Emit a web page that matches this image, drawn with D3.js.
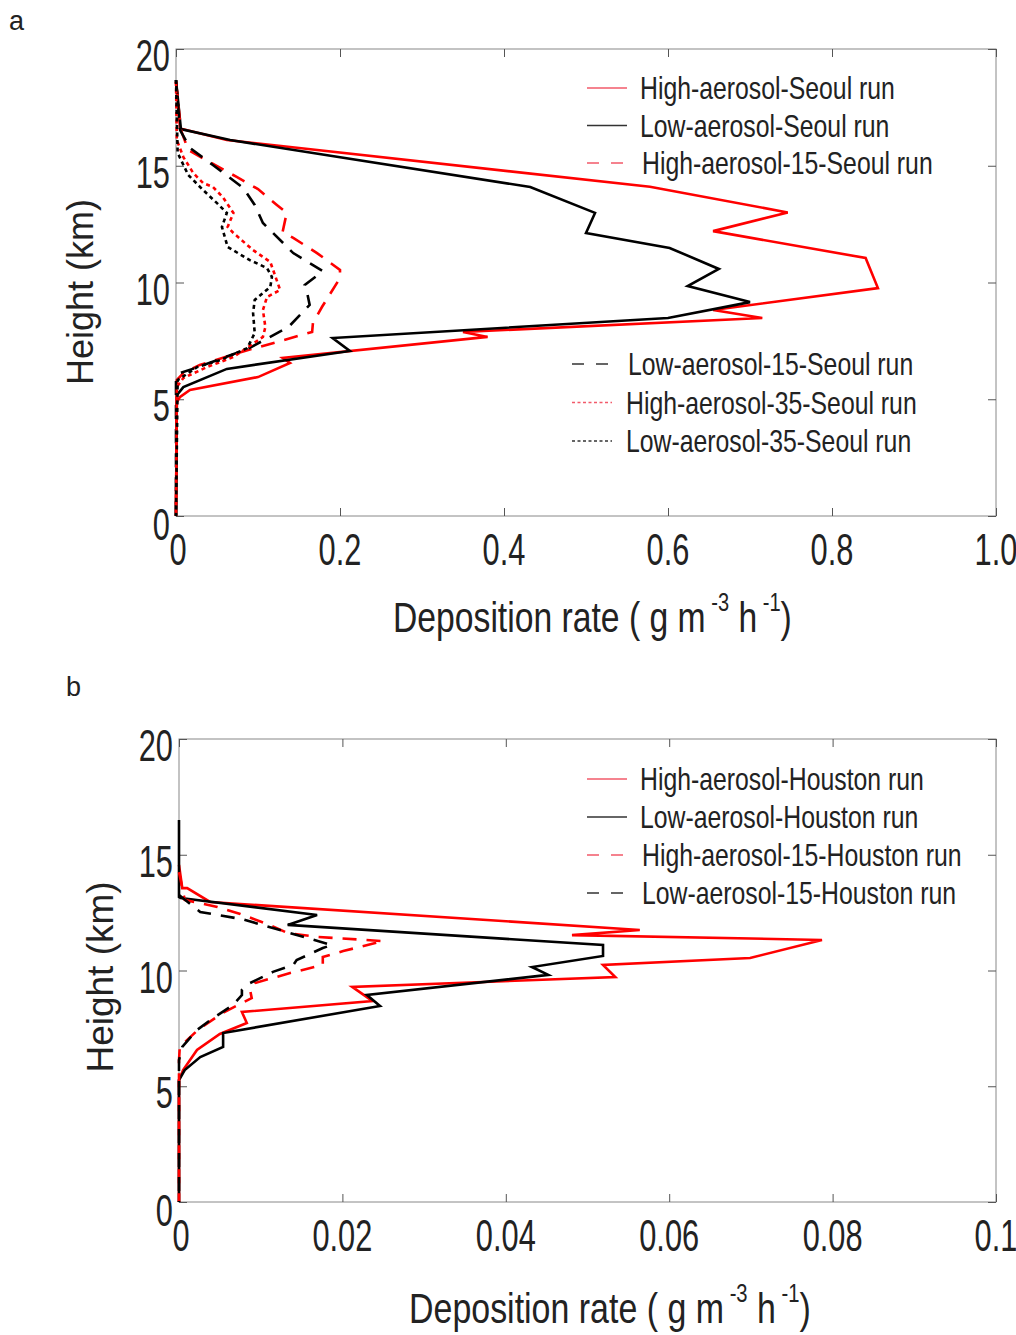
<!DOCTYPE html>
<html>
<head>
<meta charset="utf-8">
<script src="https://cdn.jsdelivr.net/npm/d3@7"></script>
<style>
  body { margin: 0; background: #fff; }
  svg text { font-family: "Liberation Sans", Arial, sans-serif; fill: #222; }
</style>
</head>
<body>
<svg id="chart" width="1016" height="1335"></svg>
<script>
// ---- data: [deposition rate, height km] ----
const highSeoul = [[0,18.6],[0.005,16.6],[0.062,16.1],[0.578,14.1],[0.746,13.0],[0.655,12.2],[0.841,11.05],[0.856,9.76],[0.655,8.82],[0.715,8.48],[0.350,7.88],[0.380,7.67],[0.130,6.77],[0.139,6.55],[0.100,5.95],[0.017,5.40],[0.005,5.10],[0.001,4.88],[0,0]];
const lowSeoul = [[0,18.67],[0.006,16.57],[0.066,16.1],[0.432,14.09],[0.511,12.98],[0.500,12.12],[0.602,11.48],[0.662,10.58],[0.624,9.85],[0.700,9.16],[0.600,8.48],[0.191,7.62],[0.212,7.07],[0.062,6.30],[0.009,5.52],[0.001,5.18],[0,0]];
const high15Seoul = [[0,18.59],[0.006,16.53],[0.015,15.67],[0.074,14.52],[0.100,14.0],[0.123,13.32],[0.135,12.98],[0.130,12.16],[0.143,11.91],[0.172,11.26],[0.200,10.54],[0.200,10.19],[0.178,8.95],[0.167,8.27],[0.166,7.88],[0.123,7.45],[0.088,7.11],[0.029,6.47],[0.009,6.12],[0.001,5.82],[0,0]];
const low15Seoul = [[0,18.67],[0.005,16.53],[0.017,15.76],[0.045,15.03],[0.082,14.05],[0.096,13.32],[0.106,12.55],[0.143,11.26],[0.179,10.49],[0.157,9.89],[0.160,9.55],[0.163,9.04],[0.137,8.09],[0.087,7.15],[0.027,6.38],[0.005,6.12],[0,5.82],[0,0]];
const high35Seoul = [[0,18.59],[0.001,16.1],[0.009,15.37],[0.021,14.69],[0.033,14.26],[0.045,14.09],[0.057,13.66],[0.070,12.98],[0.063,12.38],[0.070,12.12],[0.094,11.39],[0.115,10.88],[0.127,9.68],[0.111,9.38],[0.106,8.82],[0.109,8.09],[0.106,7.67],[0.070,6.81],[0.038,6.38],[0.009,5.91],[0.001,5.52],[0,0]];
const low35Seoul = [[0,18.67],[0.002,15.55],[0.015,14.60],[0.033,13.96],[0.050,13.40],[0.062,12.98],[0.056,12.38],[0.063,11.52],[0.090,10.96],[0.111,10.62],[0.117,10.24],[0.115,9.81],[0.096,9.25],[0.094,8.69],[0.096,7.84],[0.087,7.19],[0.054,6.68],[0.026,6.38],[0.002,5.82],[0,0]];

const highHouston = [[0,14.56],[0.0004,13.56],[0.001,13.56],[0.0038,12.96],[0.0564,11.75],[0.0481,11.53],[0.0787,11.32],[0.0699,10.54],[0.0519,10.24],[0.0534,9.72],[0.0212,9.29],[0.0237,8.68],[0.0077,8.21],[0.0083,7.73],[0.0050,7.26],[0.0022,6.57],[0.0005,5.70],[0,5.27],[0,0]];
const lowHouston = [[0,16.5],[0,13.17],[0.0002,13.13],[0.0169,12.40],[0.0133,11.97],[0.0519,11.10],[0.0519,10.63],[0.0432,10.15],[0.0452,9.81],[0.0230,8.94],[0.0246,8.47],[0.0054,7.30],[0.0054,6.70],[0.0026,6.26],[0.0007,5.70],[0,5.27],[0,0]];
const high15Houston = [[0,14.25],[0.0007,13.05],[0.0047,12.74],[0.0075,12.44],[0.0108,12.01],[0.0133,11.62],[0.0169,11.45],[0.0250,11.27],[0.0201,10.84],[0.0176,10.58],[0.0176,10.24],[0.0136,9.89],[0.0093,9.46],[0.0087,9.16],[0.0089,8.81],[0.0053,8.16],[0.0023,7.43],[0.0001,6.70],[0,6.13],[0,0]];
const low15Houston = [[0,13.26],[0.0026,12.53],[0.0077,12.22],[0.0132,11.66],[0.0187,11.10],[0.0176,10.97],[0.0144,10.45],[0.0140,10.24],[0.0115,9.94],[0.0087,9.46],[0.0077,9.16],[0.0077,8.94],[0.0066,8.51],[0.0042,7.95],[0.0022,7.43],[0.0004,6.70],[0,6.13],[0,0]];

const heightTicks = [0, 5, 10, 15, 20];
const rateTicksA = [0, 0.2, 0.4, 0.6, 0.8, 1.0];
const rateLabelsA = ["0", "0.2", "0.4", "0.6", "0.8", "1.0"];
const rateTicksB = [0, 0.02, 0.04, 0.06, 0.08, 0.1];
const rateLabelsB = ["0", "0.02", "0.04", "0.06", "0.08", "0.1"];

const DASH = "14,10", DOT = "4,3.5";

const seriesA = [
  { name: "High-aerosol-Seoul run", data: highSeoul, color: "#ff0000", dash: null },
  { name: "Low-aerosol-Seoul run", data: lowSeoul, color: "#000", dash: null },
  { name: "High-aerosol-15-Seoul run", data: high15Seoul, color: "#ff0000", dash: DASH },
  { name: "Low-aerosol-15-Seoul run", data: low15Seoul, color: "#000", dash: DASH },
  { name: "High-aerosol-35-Seoul run", data: high35Seoul, color: "#ff0000", dash: DOT },
  { name: "Low-aerosol-35-Seoul run", data: low35Seoul, color: "#000", dash: DOT }
];
const seriesB = [
  { name: "High-aerosol-Houston run", data: highHouston, color: "#ff0000", dash: null },
  { name: "Low-aerosol-Houston run", data: lowHouston, color: "#000", dash: null },
  { name: "High-aerosol-15-Houston run", data: high15Houston, color: "#ff0000", dash: DASH },
  { name: "Low-aerosol-15-Houston run", data: low15Houston, color: "#000", dash: DASH }
];

const svg = d3.select("#chart");

// text squeezed horizontally (the original uses a condensed face)
function label(g, x, y, s, size, anchor, f, rot) {
  return g.append("text")
    .attr("transform", `translate(${x},${y})` + (rot ? ` rotate(${rot})` : "") + ` scale(${f},1)`)
    .attr("text-anchor", anchor).attr("font-size", size).text(s);
}
function fitWidth(t, x, y, w) {
  const bw = t.node().getBBox().width;
  t.attr("transform", `translate(${x},${y}) scale(${w / bw},1)`);
}

function drawPanel(opt) {
  const x = d3.scaleLinear().domain([0, opt.xmax]).range([opt.left, opt.right]);
  const y = d3.scaleLinear().domain([0, 20]).range([opt.bottom, opt.top]);
  const g = svg.append("g");

  g.append("rect")
    .attr("x", opt.left).attr("y", opt.top)
    .attr("width", opt.right - opt.left).attr("height", opt.bottom - opt.top)
    .attr("fill", "none").attr("stroke", "#888").attr("stroke-width", 1);

  const tickStyle = sel => {
    sel.select(".domain").remove();
    sel.selectAll(".tick line").attr("stroke", "#555");
    sel.selectAll(".tick text").remove();
  };
  g.append("g").attr("transform", `translate(0,${opt.bottom})`)
    .call(d3.axisBottom(x).tickValues(opt.xticks).tickSize(-8)).call(tickStyle);
  g.append("g").attr("transform", `translate(0,${opt.top})`)
    .call(d3.axisTop(x).tickValues(opt.xticks).tickSize(-8)).call(tickStyle);
  g.append("g").attr("transform", `translate(${opt.left},0)`)
    .call(d3.axisLeft(y).tickValues(heightTicks).tickSize(-8)).call(tickStyle);
  g.append("g").attr("transform", `translate(${opt.right},0)`)
    .call(d3.axisRight(y).tickValues(heightTicks).tickSize(-8)).call(tickStyle);

  // tick labels
  opt.xticks.forEach((d, i) => label(g, x(d) + (i === 0 ? 2 : 0), opt.bottom + 49, opt.xlabels[i], 44, "middle", 0.7));
  heightTicks.forEach(d => label(g, opt.left - 6, y(d) + 22 + (d === 0 ? 2 : 0), d, 44, "end", 0.7));

  // lines
  const line = d3.line().x(d => x(d[0])).y(d => y(d[1]));
  g.selectAll(".series").data(opt.series).join("path")
    .attr("d", s => line(s.data))
    .attr("fill", "none")
    .attr("stroke", s => s.color)
    .attr("stroke-width", 2.6)
    .attr("stroke-dasharray", s => s.dash);

  // legends
  opt.legends.forEach(lg => {
    lg.items.forEach((s, i) => {
      const yy = lg.y + i * lg.step;
      g.append("line")
        .attr("x1", lg.x).attr("x2", lg.x + 40)
        .attr("y1", yy).attr("y2", yy)
        .attr("stroke", s.color === "#000" ? "#333" : "#f25a6a")
        .attr("stroke-width", 1.6)
        .attr("stroke-dasharray", s.dash === DASH ? "12,12" : (s.dash === DOT ? "3,2.5" : null));
      label(g, lg.x + lg.gap + (s.dash === DASH && lg.gap > 50 ? 2 : 0), yy + 11, s.name, 32, "start", 0.775);
    });
  });

  // x title
  const xt = g.append("text").attr("text-anchor", "start").attr("font-size", 42);
  xt.append("tspan").text("Deposition rate ( g m");
  xt.append("tspan").attr("dy", -21).attr("font-size", 25).text(" -3");
  xt.append("tspan").attr("dy", 21).text(" h");
  xt.append("tspan").attr("dy", -21).attr("font-size", 25).text(" -1");
  xt.append("tspan").attr("dy", 21).text(")");
  fitWidth(xt, opt.xtitleX, opt.xtitleY, opt.xtitleW);

  label(g, opt.ytitleX, opt.ytitleY, "Height (km)", opt.ytitleSize, "middle", 1, -90);

  g.append("text").attr("x", opt.tagX).attr("y", opt.tagY).attr("font-size", 27).text(opt.tag);
}

drawPanel({
  left: 176, right: 996, top: 49, bottom: 516, xmax: 1.0,
  xticks: rateTicksA, xlabels: rateLabelsA, series: seriesA,
  legends: [
    { x: 587, y: 88, step: 37.5, gap: 53, items: seriesA.slice(0, 3) },
    { x: 572, y: 364, step: 38.5, gap: 54, items: seriesA.slice(3) }
  ],
  xtitleX: 393, xtitleY: 632, xtitleW: 399,
  ytitleX: 93, ytitleY: 292, ytitleSize: 36,
  tag: "a", tagX: 9, tagY: 30
});

drawPanel({
  left: 179, right: 996, top: 739, bottom: 1202, xmax: 0.1,
  xticks: rateTicksB, xlabels: rateLabelsB, series: seriesB,
  legends: [
    { x: 587, y: 779, step: 38, gap: 53, items: seriesB }
  ],
  xtitleX: 409, xtitleY: 1323, xtitleW: 402,
  ytitleX: 113, ytitleY: 977, ytitleSize: 37,
  tag: "b", tagX: 66, tagY: 696
});
</script>
</body>
</html>
